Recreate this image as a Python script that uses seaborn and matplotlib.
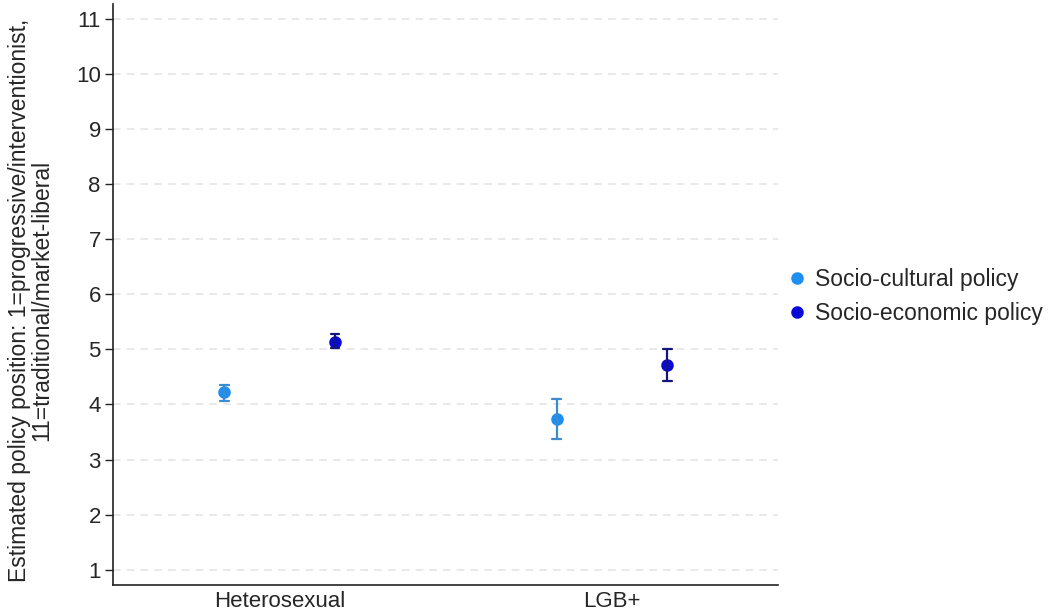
"""
Estimated policy positions by sexual orientation (point estimates with 95% CIs).
"""
import matplotlib

matplotlib.use("Agg")
import matplotlib.pyplot as plt
import pandas as pd
import seaborn as sns

groups = ["Heterosexual", "LGB+"]
policies = ["Socio-cultural policy", "Socio-economic policy"]

# estimate, lower bound, upper bound
cultural_est = [4.22, 3.74]
cultural_lo = [4.07, 3.37]
cultural_hi = [4.36, 4.10]
economic_est = [5.14, 4.71]
economic_lo = [5.03, 4.42]
economic_hi = [5.28, 5.01]

point_colors = {"Socio-cultural policy": "#1f8ef1", "Socio-economic policy": "#0a0ad6"}
bar_colors = {"Socio-cultural policy": "#3b8bd0", "Socio-economic policy": "#16167a"}

rows = []
for policy, est, lo, hi in [
    (policies[0], cultural_est, cultural_lo, cultural_hi),
    (policies[1], economic_est, economic_lo, economic_hi),
]:
    for g, e, l, h in zip(groups, est, lo, hi):
        # three rows per cell: median gives the estimate, min/max give the CI
        for v in (l, e, h):
            rows.append({"group": g, "policy": policy, "value": v})
df = pd.DataFrame(rows)

sns.set_style("white")
plt.rcParams["font.family"] = ["Liberation Sans", "DejaVu Sans"]

fig = plt.figure(figsize=(10.59, 6.11), dpi=100)
ax = fig.add_axes([0.107, 0.043, 0.628, 0.951])

for i, policy in enumerate(policies):
    sns.pointplot(
        data=df[df["policy"] == policy],
        x="group",
        y="value",
        hue="policy",
        hue_order=policies,
        order=groups,
        palette=point_colors,
        estimator="median",
        errorbar=("pi", 100),
        dodge=0.333,
        linestyle="none",
        markers="o",
        markersize=7,
        capsize=0.026,
        err_kws={"color": bar_colors[policy], "linewidth": 1.6},
        legend=(i == 0),
        ax=ax,
    )

ax.set_ylim(0.73, 11.27)
ax.set_xlim(-0.5, 1.5)
ax.set_yticks(range(1, 12))
ax.yaxis.grid(True, linestyle=(0, (5, 4)), color="#e3e3e3", linewidth=1.1)
ax.xaxis.grid(False)
ax.set_axisbelow(True)
sns.despine(ax=ax)
for side in ("left", "bottom"):
    ax.spines[side].set_color("#222222")
    ax.spines[side].set_linewidth(1.2)
ax.tick_params(axis="y", left=True, length=6, width=1, color="#222222", labelsize=16, pad=3)
ax.tick_params(axis="x", bottom=False, labelsize=16, pad=1)
ax.set_xlabel("")
ax.set_ylabel(
    "Estimated policy position: 1=progressive/interventionist,\n11=traditional/market-liberal",
    fontsize=16.5,
    linespacing=0.95,
)
ax.yaxis.set_label_coords(-0.124, 0.49)
ax.yaxis.label.set_va("center")

sns.move_legend(
    ax,
    "center left",
    bbox_to_anchor=(0.722, 0.515),
    bbox_transform=fig.transFigure,
    title=None,
    frameon=False,
    fontsize=16.5,
    handletextpad=0.3,
    labelspacing=0.5,
    handlelength=1.0,
)

fig.savefig("out.png", dpi=100)
